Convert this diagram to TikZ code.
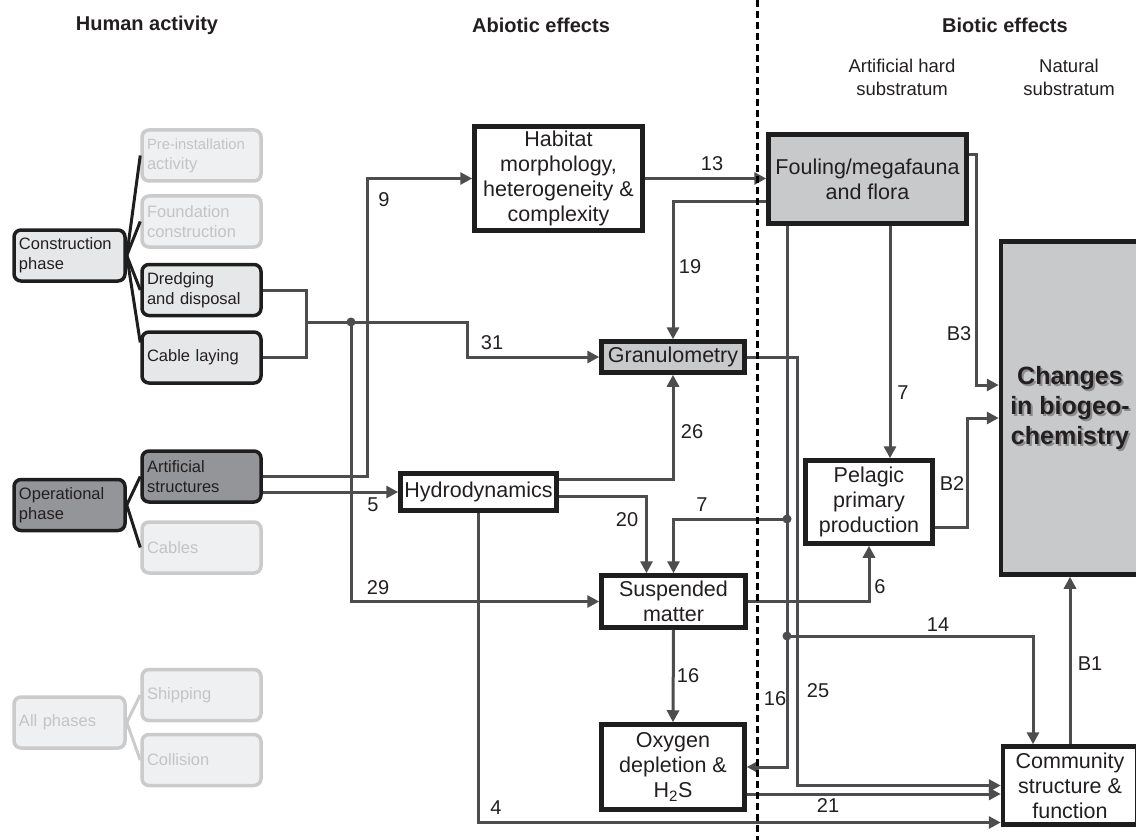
\documentclass[tikz,border=0pt]{standalone}
\usepackage{fontspec}
\setmainfont{Liberation Sans}
\usetikzlibrary{arrows.meta,calc}
\definecolor{conncol}{HTML}{4D4D4F}
\definecolor{boxline}{HTML}{1E1E1E}
\definecolor{txt}{HTML}{231F20}
\definecolor{lightfill}{HTML}{E6E7E8}
\definecolor{darkfill}{HTML}{939598}
\definecolor{grayfill}{HTML}{C8C9CB}
\definecolor{fadefill}{HTML}{EFF0F1}
\definecolor{fadeline}{HTML}{CBCBCB}
\definecolor{fadetext}{HTML}{C4C4C4}
\begin{document}
\begin{tikzpicture}[x=1pt,y=-1pt,
  mainbox/.style={draw=boxline, line width=4.5pt, fill=white, rectangle, align=center, inner sep=0pt, text=txt, font=\fontsize{21.5}{25}\selectfont},
  graybox/.style={mainbox, fill=grayfill},
  actbox/.style={draw=boxline, line width=3.5pt, rounded corners=7pt, fill=lightfill, align=left, text=txt, inner xsep=5pt, inner ysep=0pt, minimum height=51pt, font=\fontsize{16.5}{20}\selectfont},
  subbox/.style={actbox, text width=109pt},
  phasebox/.style={actbox, text width=101pt},
  opfill/.style={fill=darkfill},
  faded/.style={draw=fadeline, fill=fadefill, text=fadetext},
  conn/.style={draw=conncol, line width=3pt},
  arr/.style={conn, -{Triangle[length=12pt,width=12pt]}},
  branch/.style={draw=boxline, line width=3pt},
  fadebranch/.style={draw=fadeline, line width=3pt},
  lab/.style={text=txt, font=\fontsize{20}{24}\selectfont, inner sep=0pt},
  hdr/.style={text=txt, font=\bfseries\fontsize{20}{24}\selectfont},
  subhdr/.style={text=txt, font=\fontsize{18.5}{23}\selectfont, align=center},
  bigtxt/.style={font=\bfseries\fontsize{25}{30}\selectfont, align=center, inner sep=0pt}
]
\useasboundingbox (0,0) rectangle (1136,840);
\clip (0,0) rectangle (1136,840);

% headers
\node[hdr] (h1) at (147,25) {Human activity};
\node[hdr] (h2) at (541,25) {Abiotic effects};
\node[hdr] (h3) at (1005,25) {Biotic effects};
\node[subhdr] (h4) at (902,77) {Artificial hard\\substratum};
\node[subhdr] (h5) at (1069,77) {Natural\\substratum};

% left column
\node[phasebox] (con) at (69.5,255.5) {Construction\\phase};
\node[subbox, faded] (pre) at (201.5,155.5) {{\fontsize{14.8}{20}\selectfont\mbox{Pre-installation}}\\activity};
\node[subbox, faded] (found) at (201.5,221.5) {Foundation\\construction};
\node[subbox] (dredge) at (201.5,290) {Dredging\\and disposal};
\node[subbox] (cable) at (201.5,357.5) {Cable laying};
\node[phasebox, opfill] (op) at (69.5,505) {Operational\\phase};
\node[subbox, opfill] (art) at (201.5,476.5) {Artificial\\structures};
\node[subbox, faded] (cables) at (201.5,547.5) {Cables};
\node[phasebox, faded] (allp) at (69.5,722.5) {All phases};
\node[subbox, faded] (ship) at (201.5,695) {Shipping};
\node[subbox, faded] (coll) at (201.5,760) {Collision};

\draw[branch] (con.east) -- (pre.west);
\draw[branch] (con.east) -- (found.west);
\draw[branch] (con.east) -- (dredge.west);
\draw[branch] (con.east) -- ([yshift=15pt]cable.west);
\draw[branch] (op.east) -- (art.west);
\draw[branch] (op.east) -- (cables.west);
\draw[fadebranch] (allp.east) -- (ship.west);
\draw[fadebranch] (allp.east) -- (coll.west);

% main nodes
\node[mainbox, minimum width=168pt, minimum height=104pt] (hab) at (558.5,178.5) {Habitat\\morphology,\\heterogeneity \&\\complexity};
\node[graybox, minimum width=143pt, minimum height=31pt] (gran) at (673,357) {Granulometry};
\node[mainbox, minimum width=156pt, minimum height=37pt] (hydro) at (478.5,492) {Hydrodynamics};
\node[mainbox, minimum width=144pt, minimum height=52pt] (susp) at (673.5,601.5) {Suspended\\matter};
\node[mainbox, minimum width=143pt, minimum height=85pt] (oxy) at (673,767) {Oxygen\\depletion \&\\H\textsubscript{2}S};
\node[graybox, minimum width=198pt, minimum height=89pt] (foul) at (867.5,179) {Fouling/megafauna\\and flora};
\node[mainbox, minimum width=127pt, minimum height=83pt] (pel) at (869,502) {Pelagic\\primary\\production};
\node[graybox, minimum width=138pt, minimum height=333pt] (chg) at (1070,408) {};
\node[bigtxt, text=black!45] (chgsh) at ([shift={(2,2)}]chg.center) {Changes\\in biogeo-\\chemistry};
\node[bigtxt, text=txt] (chgtxt) at (chg.center) {Changes\\in biogeo-\\chemistry};
\node[mainbox, minimum width=134pt, minimum height=78pt] (comm) at (1070,785.5) {Community\\structure \&\\function};

% junctions
\coordinate (j1) at (306,322);
\coordinate (jd) at (351,322);
\coordinate (d7) at (787,519);
\coordinate (d14) at (787,636);

% connectors
\draw[conn] (dredge.east) -| (j1);
\draw[conn] (cable.east) -| (j1);
\draw[arr] (j1) -- (467,322) |- (gran.west);
\draw[arr] (jd) |- (susp.west);
\draw[arr] (art.east) -- (367,476.5) |- (hab.west);
\draw[arr] (art.east |- hydro.west) -- (hydro.west);
\draw[arr] (hab.east) -- (foul.west |- hab.east);
\draw[arr] ([yshift=-23pt]foul.west) -| (gran.north);
\draw[arr] ([yshift=13pt]hydro.east) -| (gran.south);
\draw[arr] ([yshift=-4pt]hydro.east) -| ([xshift=-27pt]susp.north);
\draw[arr] (hydro.south) |- ([yshift=-37pt]comm.west);
\draw[arr] (susp.south) -- (oxy.north);
\draw[arr] ([xshift=-80.5pt]foul.south) |- (oxy.east);
\draw[arr] (d7) -| (susp.north);
\draw[arr] (d14) -| ([xshift=-37pt]comm.north);
\draw[arr] (gran.east) -- (797,357) |- (comm.west);
\draw[arr] ([yshift=-27pt]oxy.east) coordinate (o21) -- (comm.west |- o21);
\draw[arr] (susp.east) -| (pel.south);
\draw[arr] ([xshift=22.5pt]foul.south) -- ([xshift=21pt]pel.north);
\draw[arr] ([yshift=24pt]foul.east) -- (976,155) |- ([yshift=23pt]chg.west);
\draw[arr] ([yshift=-25pt]pel.east) -- (967,527) |- ([yshift=-10pt]chg.west);
\draw[arr] (comm.north) -- (chg.south);
\fill[conncol] (jd) circle (4.5pt);
\fill[conncol] (d7) circle (4.5pt);
\fill[conncol] (d14) circle (4.5pt);

% dotted divider
\draw[line width=3pt, dash pattern=on 7pt off 4pt, black] (757,0) -- (757,840);

% labels
\node[lab] (l31) at (492,343) {31};
\node[lab] (l29) at (378,588) {29};
\node[lab] (l9) at (384,200) {9};
\node[lab] (l5) at (373,505) {5};
\node[lab] (l13) at (712,164) {13};
\node[lab] (l19) at (690,267) {19};
\node[lab] (l26) at (692,432) {26};
\node[lab] (l20) at (627,520) {20};
\node[lab] (l7a) at (702,505) {7};
\node[lab] (l4) at (496,808) {4};
\node[lab] (l16a) at (688,676) {16};
\node[lab] (l16b) at (775,699) {16};
\node[lab] (l25) at (818,691) {25};
\node[lab] (l14) at (938,625) {14};
\node[lab] (l6) at (880,587) {6};
\node[lab] (l7b) at (903,393) {7};
\node[lab] (lB3) at (959,334) {B3};
\node[lab] (lB2) at (952,484) {B2};
\node[lab] (lB1) at (1090,664) {B1};
\node[lab] (l21) at (828,806) {21};
\end{tikzpicture}
\end{document}
